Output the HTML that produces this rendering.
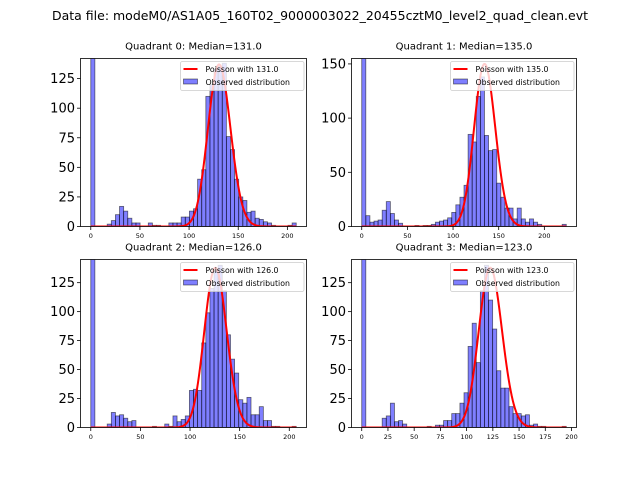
<!DOCTYPE html>
<html><head><meta charset="utf-8"><style>
html,body{margin:0;padding:0;background:#fff;}
svg{display:block;font-family:"DejaVu Sans","Liberation Sans",sans-serif;}
</style></head><body>
<svg id="chart" width="640" height="480" viewBox="0 0 640 480">
<rect width="640" height="480" fill="#fff"/>
<text x="320" y="20" text-anchor="middle" font-size="12" textLength="536" lengthAdjust="spacingAndGlyphs">Data file: modeM0/AS1A05_160T02_9000003022_20455cztM0_level2_quad_clean.evt</text>
</svg>
<script>
// ---- data ----
const quadrantNames = ["Quadrant 0", "Quadrant 1", "Quadrant 2", "Quadrant 3"];
const medians = [131.0, 135.0, 126.0, 123.0];
const rangeMax = [209, 224, 207, 195];
const counts0 = [500,0,0,0,2,5,10,17,13,7,3,3,0,0,3,1,1,0,0,3,3,3,8,8,13,15,40,48,110,120,133,135,138,76,65,40,25,22,12,13,7,6,4,3,1,0,0,0,1,3];
const counts1 = [500,10,4,5,6,15,23,12,6,3,0,0,0,1,0,1,1,2,4,5,6,8,13,20,27,38,85,78,120,138,84,70,71,40,27,17,17,7,17,7,4,7,4,2,0,0,0,0,0,2];
const counts2 = [500,0,0,0,3,13,10,11,8,5,6,0,0,0,0,1,0,0,3,1,10,5,7,10,32,33,32,73,99,120,135,140,118,80,59,47,24,21,26,11,11,18,6,6,1,1,0,0,0,1];
const counts3 = [500,0,0,0,0,8,10,21,5,6,3,0,0,0,0,0,1,0,2,2,6,6,12,12,21,30,70,90,56,118,140,110,85,49,34,34,18,12,12,10,11,2,3,1,1,0,0,0,0,1];
const poissonTotals = [3930, 4370, 3880, 3836];
const yMaxes = [142, 155, 145, 145];
const yTicks0 = [0,25,50,75,100,125];
const yTicks1 = [0,50,100,150];
const xTicks0 = [0,50,100,150,200];
const xTicks3 = [0,25,50,75,100,125,150,175,200];

const countsAll = [counts0, counts1, counts2, counts3];
const yTicksAll = [yTicks0, yTicks1, yTicks0, yTicks0];
const xTicksAll = [xTicks0, xTicks0, xTicks0, xTicks3];
const boxes = [
  {l:80.5, t:58.5, r:306.5, b:226.5},
  {l:351.5, t:58.5, r:576.5, b:226.5},
  {l:80.5, t:259.5, r:306.5, b:427.5},
  {l:351.5, t:259.5, r:576.5, b:427.5}
];
const NS = "http://www.w3.org/2000/svg";
const svg = document.getElementById("chart");
function mk(tag, attrs, parent){
  const e = document.createElementNS(NS, tag);
  for (const k in attrs) e.setAttribute(k, attrs[k]);
  (parent||svg).appendChild(e);
  return e;
}
function logFact(k){ let s=0; for(let i=2;i<=k;i++) s+=Math.log(i); return s; }

for (let p=0; p<4; p++){
  const bx = boxes[p], data = countsAll[p];
  const nb = data.length, w = rangeMax[p]/nb;
  const span = rangeMax[p];
  const x0 = -0.05*span, x1 = span*1.05;
  const xs = v => bx.l + (v-x0)/(x1-x0)*(bx.r-bx.l);
  const ys = v => bx.b - v/yMaxes[p]*(bx.b-bx.t);
  const g = mk("g", {});
  
  
  const clipId = "clip"+p;
  const cp = mk("clipPath", {id:clipId}, g);
  mk("rect", {x:bx.l, y:bx.t, width:bx.r-bx.l, height:bx.b-bx.t}, cp);
  const plot = mk("g", {"clip-path":"url(#"+clipId+")"}, g);
  for (let i=0;i<nb;i++){
    if (data[i] <= 0) continue;
    const xa = xs(i*w), xb = xs((i+1)*w);
    const ya = ys(data[i]);
    const r = mk("rect", {x:xa, y:ya, width:xb-xa, height:bx.b-ya, fill:"rgba(0,0,255,0.5)", stroke:"rgba(0,0,0,0.55)", "stroke-width":"0.8"}, plot);
    
    
  }
  const mu = medians[p];
  let d = "";
  for (let k=0;k<=Math.floor(span);k++){
    const v = poissonTotals[p]*Math.exp(k*Math.log(mu)-mu-logFact(k));
    d += (k?"L":"M")+xs(k).toFixed(2)+","+ys(v).toFixed(2);
  }
  const line = mk("path", {d:d, fill:"none", stroke:"#ff0000", "stroke-width":"2", "stroke-linejoin":"round"}, plot);
  
  
  const fr = mk("rect", {x:bx.l, y:bx.t, width:bx.r-bx.l, height:bx.b-bx.t, fill:"none", stroke:"#000", "stroke-width":"0.8"}, g);
  
  
  yTicksAll[p].forEach(t=>{
    const y = ys(t);
    mk("line", {x1:bx.l-3.5, x2:bx.l, y1:y, y2:y, stroke:"#000", "stroke-width":"0.8"}, g);
    const tx = mk("text", {x:bx.l-5.5, y:y+4.5, "text-anchor":"end", "font-size":"13"}, g);
    tx.textContent = t;
    
    
  });
  xTicksAll[p].forEach(t=>{
    const x = xs(t);
    mk("line", {x1:x, x2:x, y1:bx.b, y2:bx.b+3.5, stroke:"#000", "stroke-width":"0.8"}, g);
    const tx = mk("text", {x:x, y:bx.b+11.5, "text-anchor":"middle", "font-size":"6.5"}, g);
    tx.textContent = t;
    
    
  });
  const ti = mk("text", {x:(bx.l+bx.r)/2, y:bx.t-9, "text-anchor":"middle", "font-size":"10"}, g);
  ti.textContent = quadrantNames[p]+": Median="+medians[p].toFixed(1);
  
  
  const lg = mk("g", {}, g);
  
  
  const lx = bx.r-126, ly = bx.t+3;
  mk("rect", {x:lx, y:ly, width:123.5, height:29, rx:2, fill:"rgba(255,255,255,0.8)", stroke:"#ccc", "stroke-width":"0.8"}, lg);
  mk("line", {x1:lx+3, x2:lx+17, y1:ly+7.5, y2:ly+7.5, stroke:"#ff0000", "stroke-width":"2"}, lg);
  const t1 = mk("text", {x:lx+25, y:ly+10.5, "font-size":"7.8"}, lg);
  t1.textContent = "Poisson with "+medians[p].toFixed(1);
  
  
  mk("rect", {x:lx+3, y:ly+17.5, width:14, height:5, fill:"rgba(0,0,255,0.5)", stroke:"rgba(0,0,0,0.55)", "stroke-width":"0.8"}, lg);
  const t2 = mk("text", {x:lx+25, y:ly+23.5, "font-size":"7.8"}, lg);
  t2.textContent = "Observed distribution";
  
  
}
</script>
</body></html>
